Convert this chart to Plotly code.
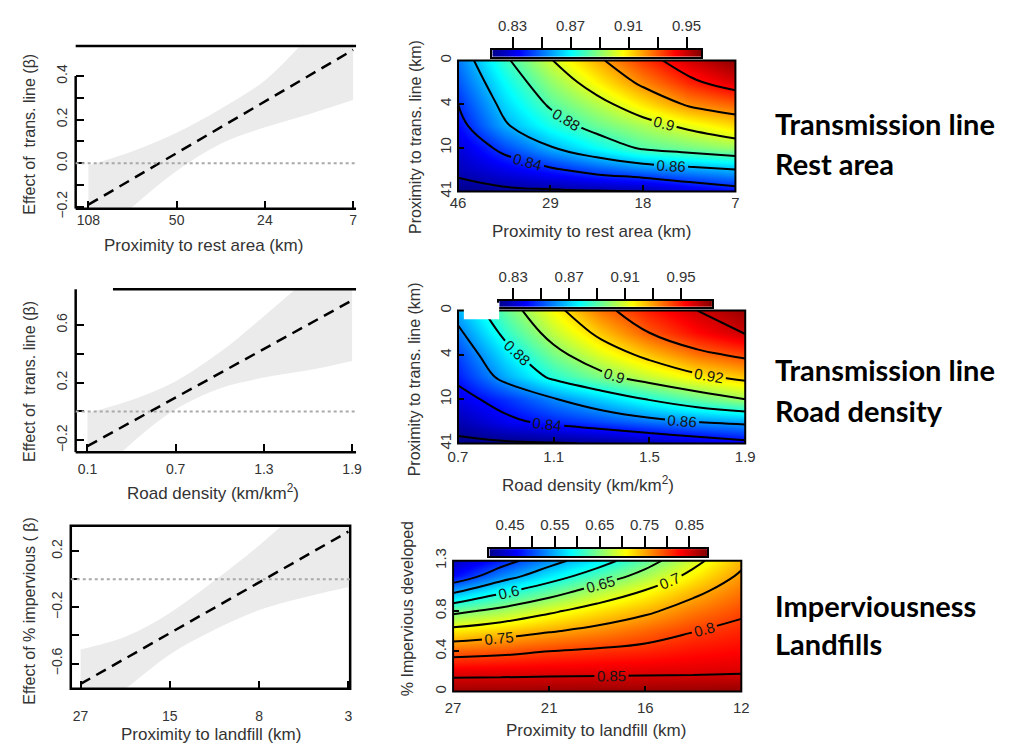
import plotly.graph_objects as go

W, H = 1015, 753
FONT = "Liberation Sans, Arial, sans-serif"
TXT = "#333333"
BAND = "#ebebeb"
JET = [[0.0, "#00008F"], [0.125, "#0000FF"], [0.375, "#00FFFF"],
       [0.625, "#FFFF00"], [0.875, "#FF0000"], [1.0, "#800000"]]

# ---------------- data ----------------
# Panel 1 left: effect of transmission line vs proximity to rest area (evenly spaced tick index)
rest_tick_pos = [0, 1, 2, 3]
rest_tick_text = ["108", "50", "24", "7"]
rest_band_x = [0, 0.5, 1.0, 1.5, 2.0, 2.5, 3.0]
rest_band_upper = [-0.01, 0.055, 0.14, 0.25, 0.38, 0.58, 0.78]
rest_band_lower = [-0.40, -0.20, -0.035, 0.09, 0.165, 0.225, 0.29]
rest_line_x = [0, 3]
rest_line_y = [-0.19, 0.52]
rest_ytick_vals = [-0.2, 0.0, 0.2, 0.4]
rest_ytick_text = ["\u22120.2", "0.0", "0.2", "0.4"]
rest_yminor = [-0.1, 0.1, 0.3]

# Panel 2 left: effect of transmission line vs road density
road_tick_vals = [0.1, 0.7, 1.3, 1.9]
road_band_x = [0.1, 0.4, 0.7, 1.0, 1.3, 1.6, 1.9]
road_band_upper = [-0.01, 0.08, 0.21, 0.41, 0.66, 0.92, 1.15]
road_band_lower = [-0.52, -0.22, 0.015, 0.16, 0.235, 0.285, 0.35]
road_line_x = [0.1, 1.9]
road_line_y = [-0.24, 0.77]
road_ytick_vals = [-0.2, 0.2, 0.6]
road_ytick_text = ["\u22120.2", "0.2", "0.6"]
road_yminor = [0.0, 0.4]

# Panel 3 left: effect of % impervious vs proximity to landfill (evenly spaced tick index)
land_tick_pos = [0, 1, 2, 3]
land_tick_text = ["27", "15", "8", "3"]
land_band_x = [0, 0.5, 1.0, 1.5, 2.0, 2.5, 3.0]
land_band_upper = [-0.50, -0.41, -0.24, -0.01, 0.24, 0.52, 0.80]
land_band_lower = [-1.00, -0.78, -0.535, -0.36, -0.22, -0.13, -0.055]
land_line_x = [0, 3]
land_line_y = [-0.745, 0.338]
land_ytick_vals = [-0.6, -0.2, 0.2]
land_ytick_text = ["\u22120.6", "\u22120.2", "0.2"]
land_yminor = [-0.4, 0.0]

# Panel 1 right: probability surface, rest area (x index) x trans. line (y index)
s1_x = [0, 0.5, 1.0, 1.5, 2.0, 2.5, 3.0]
s1_y = [0, 0.5, 1.0, 1.5, 2.0, 2.5, 3.0]
s1_z = [
    [0.851, 0.877, 0.899, 0.917, 0.934, 0.948, 0.958],
    [0.846, 0.870, 0.890, 0.907, 0.923, 0.937, 0.947],
    [0.840, 0.864, 0.882, 0.895, 0.909, 0.922, 0.928],
    [0.835, 0.858, 0.873, 0.885, 0.894, 0.903, 0.911],
    [0.828, 0.844, 0.859, 0.871, 0.882, 0.887, 0.892],
    [0.823, 0.831, 0.838, 0.846, 0.852, 0.856, 0.860],
    [0.815, 0.817, 0.818, 0.819, 0.820, 0.828, 0.834],
]
s1_xtick_text = ["46", "29", "18", "7"]
s1_ytick_text = ["0", "4", "10", "41"]
s1_cb_range = [0.816, 0.960]

# Panel 2 right: road density x trans. line
s2_x = [0.7, 0.9, 1.1, 1.3, 1.5, 1.7, 1.9]
s2_y = [0, 0.5, 1.0, 1.5, 2.0, 2.5, 3.0]
s2_z = [
    [0.866, 0.892, 0.915, 0.936, 0.949, 0.960, 0.968],
    [0.857, 0.884, 0.906, 0.924, 0.940, 0.952, 0.961],
    [0.849, 0.874, 0.895, 0.911, 0.924, 0.936, 0.943],
    [0.843, 0.865, 0.883, 0.896, 0.907, 0.917, 0.924],
    [0.835, 0.846, 0.859, 0.870, 0.881, 0.891, 0.900],
    [0.826, 0.837, 0.844, 0.850, 0.856, 0.861, 0.864],
    [0.817, 0.818, 0.819, 0.821, 0.826, 0.831, 0.836],
]
s2_xtick_vals = [0.7, 1.1, 1.5, 1.9]
s2_ytick_text = ["0", "4", "10", "41"]
s2_cb_range = [0.820, 0.972]

# Panel 3 right: landfill (x index) x % impervious developed
s3_x = [0, 0.5, 1.0, 1.5, 2.0, 2.5, 3.0]
s3_y = [0, 0.2, 0.4, 0.6, 0.8, 1.0, 1.15, 1.3]
s3_z = [
    [0.875, 0.875, 0.877, 0.878, 0.878, 0.879, 0.880],
    [0.839, 0.840, 0.841, 0.842, 0.843, 0.844, 0.846],
    [0.784, 0.790, 0.800, 0.807, 0.813, 0.822, 0.828],
    [0.715, 0.730, 0.747, 0.762, 0.780, 0.799, 0.811],
    [0.638, 0.663, 0.693, 0.719, 0.742, 0.770, 0.793],
    [0.540, 0.590, 0.628, 0.668, 0.702, 0.739, 0.772],
    [0.465, 0.528, 0.577, 0.622, 0.665, 0.712, 0.756],
    [0.430, 0.480, 0.533, 0.579, 0.631, 0.687, 0.740],
]
s3_xtick_text = ["27", "21", "16", "12"]
s3_ytick_vals = [0, 0.4, 0.8, 1.3]
s3_ytick_text = ["0", "0.4", "0.8", "1.3"]
s3_cb_range = [0.404, 0.889]

cb12_tick_vals = [0.83, 0.87, 0.91, 0.95]
cb12_minor = [0.85, 0.89, 0.93]
cb3_tick_vals = [0.45, 0.55, 0.65, 0.75, 0.85]
cb3_minor = [0.50, 0.60, 0.70, 0.80]

row_labels = [
    ("Transmission line", 112), ("Rest area", 153),
    ("Transmission line", 366), ("Road density", 408),
    ("Imperviousness", 609), ("Landfills", 648),
]


# ---------------- helpers ----------------
def xd(a, b):
    return [a / W, b / W]


def yd(top, bottom):
    return [1 - bottom / H, 1 - top / H]


fig = go.Figure()


def curve_panel(n, bx, lo, hi, lx, ly):
    xa, ya = ("x" if n == 1 else f"x{n}"), ("y" if n == 1 else f"y{n}")
    fig.add_trace(go.Scatter(x=bx, y=lo, mode="lines", line=dict(width=0, shape="spline"),
                             xaxis=xa, yaxis=ya, hoverinfo="skip"))
    fig.add_trace(go.Scatter(x=bx, y=hi, mode="lines", line=dict(width=0, shape="spline"),
                             fill="tonexty", fillcolor=BAND, xaxis=xa, yaxis=ya, hoverinfo="skip"))
    fig.add_trace(go.Scatter(x=lx, y=ly, mode="lines",
                             line=dict(color="black", width=2.5, dash="11px,7px"),
                             xaxis=xa, yaxis=ya, hoverinfo="skip"))


def surface(n, x, y, z, rng, start, end, size):
    fig.add_trace(go.Contour(
        x=x, y=y, z=z, xaxis=f"x{n}", yaxis=f"y{n}",
        colorscale=JET, zmin=rng[0], zmax=rng[1], zauto=False, showscale=False,
        autocontour=False,
        contours=dict(start=start, end=end, size=size, coloring="heatmap",
                      showlabels=True, labelformat=".2~f",
                      labelfont=dict(size=15, color="#151515", family=FONT)),
        line=dict(color="black", width=2, smoothing=1.2),
        hoverinfo="skip"))


def colorbar_strip(n, rng):
    fig.add_trace(go.Heatmap(
        x=rng, y=[0, 1], z=[rng, rng], zsmooth="best", colorscale=JET,
        zmin=rng[0], zmax=rng[1], showscale=False,
        xaxis=f"x{n}", yaxis=f"y{n}", hoverinfo="skip"))


curve_panel(1, rest_band_x, rest_band_lower, rest_band_upper, rest_line_x, rest_line_y)
curve_panel(3, road_band_x, road_band_lower, road_band_upper, road_line_x, road_line_y)
curve_panel(5, land_band_x, land_band_lower, land_band_upper, land_line_x, land_line_y)

surface(2, s1_x, s1_y, s1_z, s1_cb_range, 0.82, 0.94, 0.02)
surface(4, s2_x, s2_y, s2_z, s2_cb_range, 0.82, 0.96, 0.02)
surface(6, s3_x, s3_y, s3_z, s3_cb_range, 0.5, 0.85, 0.05)

colorbar_strip(7, s1_cb_range)
colorbar_strip(8, s2_cb_range)
colorbar_strip(9, s3_cb_range)

tickfont = dict(family=FONT, size=14, color=TXT)
base = dict(showgrid=False, zeroline=False, fixedrange=True, tickfont=tickfont,
            ticks="inside", ticklen=8, tickwidth=2, tickcolor="black")


def minor(vals, ln=8):
    return dict(tickmode="array", tickvals=vals, ticks="inside", ticklen=ln,
                tickwidth=2, tickcolor="black", showgrid=False)


def ax(n):
    return ("xaxis" if n == 1 else f"xaxis{n}"), ("yaxis" if n == 1 else f"yaxis{n}")


layout_axes = {}


def set_axes(n, xdom, ydom, xcfg, ycfg, xstand=3, ystand=3):
    xk, yk = ax(n)
    xa_ref = "x" if n == 1 else f"x{n}"
    ya_ref = "y" if n == 1 else f"y{n}"
    layout_axes[xk] = dict(base, domain=xdom, anchor=ya_ref, ticklabelstandoff=xstand, **xcfg)
    layout_axes[yk] = dict(base, domain=ydom, anchor=xa_ref, tickangle=-90,
                           ticklabelstandoff=ystand, **ycfg)


# left curve panels
set_axes(1, xd(67, 353), yd(34, 202),
         dict(range=[-0.144, 3.033], tickvals=rest_tick_pos, ticktext=rest_tick_text),
         dict(range=[-0.209, 0.538], tickvals=rest_ytick_vals, ticktext=rest_ytick_text,
              minor=minor(rest_yminor)), xstand=1, ystand=5)
set_axes(3, xd(67, 353), yd(285, 453),
         dict(range=[0.02, 1.927], tickvals=road_tick_vals,
              ticktext=[str(v) for v in road_tick_vals]),
         dict(range=[-0.282, 0.847], tickvals=road_ytick_vals, ticktext=road_ytick_text,
              minor=minor(road_yminor)), xstand=7, ystand=5)
set_axes(5, xd(62, 347), yd(529, 697),
         dict(range=[-0.11, 3.02], tickvals=land_tick_pos, ticktext=land_tick_text),
         dict(range=[-0.779, 0.379], tickvals=land_ytick_vals, ticktext=land_ytick_text,
              minor=minor(land_yminor)), xstand=17, ystand=5)

# right surface panels
hm = dict(ticklen=6, tickfont=dict(family=FONT, size=15, color=TXT))
set_axes(2, xd(457, 740), yd(49, 184),
         dict(hm, range=[0, 3], tickvals=[0, 1, 2, 3], ticktext=s1_xtick_text),
         dict(hm, range=[3, 0], tickvals=[0, 1, 2, 3], ticktext=s1_ytick_text), xstand=1)
set_axes(4, xd(457, 750), yd(307, 444),
         dict(hm, range=[0.7, 1.9], tickvals=s2_xtick_vals,
              ticktext=[str(v) for v in s2_xtick_vals]),
         dict(hm, range=[3, 0], tickvals=[0, 1, 2, 3], ticktext=s2_ytick_text))
set_axes(6, xd(452, 746), yd(565, 700),
         dict(hm, range=[0, 3], tickvals=[0, 1, 2, 3], ticktext=s3_xtick_text),
         dict(hm, range=[0, 1.3], tickvals=s3_ytick_vals, ticktext=s3_ytick_text), xstand=5)


def cb_axes(n, xdom, ydom, rng, tv, mv):
    xk, yk = ax(n)
    layout_axes[xk] = dict(domain=xdom, anchor=f"y{n}", range=rng, side="top",
                           ticks="outside", ticklen=11, tickwidth=1.5, tickcolor="black",
                           tickvals=tv, ticktext=[f"{v:.2f}" for v in tv],
                           minor=dict(tickmode="array", tickvals=mv, ticks="outside",
                                      ticklen=11, tickwidth=1.5, tickcolor="black"),
                           tickfont=dict(family=FONT, size=15, color=TXT),
                           showline=True, mirror=True, linewidth=1.5, linecolor="black",
                           showgrid=False, zeroline=False, fixedrange=True)
    layout_axes[yk] = dict(domain=ydom, anchor=f"x{n}", range=[0, 1],
                           showticklabels=False, ticks="", showline=True, mirror=True,
                           linewidth=1.5, linecolor="black", showgrid=False,
                           zeroline=False, fixedrange=True)


cb_axes(7, xd(492, 705), yd(38, 45), s1_cb_range, cb12_tick_vals, cb12_minor)
cb_axes(8, xd(499, 716), yd(297, 303), s2_cb_range, cb12_tick_vals, cb12_minor)
cb_axes(9, xd(489, 711), yd(553, 560), s3_cb_range, cb3_tick_vals, cb3_minor)

# ---------------- frame lines ----------------
LW = 2.5
shapes = []


def seg(xref, yref, x0, x1, y0, y1, **kw):
    d = dict(type="line", xref=xref, yref=yref, x0=x0, x1=x1, y0=y0, y1=y1,
             line=dict(color=kw.get("color", "black"), width=kw.get("width", LW),
                       dash=kw.get("dash", "solid")), layer="above")
    shapes.append(d)


# panel 1 left: bottom, top, partial left spine, zero reference
seg("x domain", "y domain", 0, 1, 0, 0)
seg("x domain", "y domain", 0, 1, 1, 1)
seg("x domain", "y", 0, 0, -0.209, 0.4)
seg("x domain", "y", 0, 1, 0, 0, color="#a9a9a9", width=2, dash="dot")
# panel 2 left
seg("x3 domain", "y3 domain", 0, 1, 0, 0)
seg("x3 domain", "y3 domain", 0.133, 1, 1, 1)
seg("x3 domain", "y3 domain", 0, 0, 0, 1)
seg("x3 domain", "y3", 0, 1, 0, 0, color="#a9a9a9", width=2, dash="dot")
# panel 3 left: full box
shapes.append(dict(type="rect", xref="x5 domain", yref="y5 domain", x0=0, x1=1, y0=0, y1=1,
                   line=dict(color="black", width=LW), layer="above"))
seg("x5 domain", "y5", 0, 1, 0, 0, color="#a9a9a9", width=2, dash="dot")
# surface frames
for n in (2, 4, 6):
    shapes.append(dict(type="rect", xref=f"x{n} domain", yref=f"y{n} domain",
                       x0=0, x1=1, y0=0, y1=1, line=dict(color="black", width=2),
                       layer="above"))
# white patch present in the original composite (top-left of 2nd surface)
shapes.append(dict(type="rect", xref="paper", yref="paper",
                   x0=463 / W, x1=499 / W, y0=1 - 316 / H, y1=1 - 299 / H,
                   fillcolor="white", line=dict(width=0), layer="above"))

# ---------------- titles & labels ----------------
ann = []


def text(t, x, y, size=17, angle=0, **kw):
    ann.append(dict(text=t, x=x / W, y=1 - y / H, xref="paper", yref="paper",
                    showarrow=False, textangle=angle,
                    xanchor=kw.get("xanchor", "center"), yanchor="middle",
                    font=dict(family=kw.get("family", FONT), size=size,
                              color=kw.get("color", TXT))))


text("Proximity to rest area (km)", 197, 240)
text("Effect of  trans. line (\u03b2)", 20, 125, size=16, angle=-90)
text("Road density (km/km<sup>2</sup>)", 207, 494)
text("Effect of  trans. line (\u03b2)", 20, 380, size=16, angle=-90)
text("Proximity to landfill (km)", 205, 744)
text("Effect of % impervious ( \u03b2)", 20, 617, size=16, angle=-90)

text("Proximity to rest area (km)", 593, 225)
text("Proximity to trans. line (km)", 413, 128, size=16, angle=-90)
text("Road density (km/km<sup>2</sup>)", 590, 486)
text("Proximity to trans. line (km)", 413, 378, size=16, angle=-90)
text("Proximity to landfill (km)", 598, 740)
text("% Impervious developed", 405, 615, size=16, angle=-90)

for t, yy in row_labels:
    text(f"<b>{t}</b>", 778, yy + 2, size=29, xanchor="left", family="Lato", color="black")

fig.update_layout(
    width=W, height=H, margin=dict(l=0, r=0, t=0, b=0),
    paper_bgcolor="white", plot_bgcolor="white", showlegend=False,
    shapes=shapes, annotations=ann, **layout_axes)

fig.write_html("out.html")
